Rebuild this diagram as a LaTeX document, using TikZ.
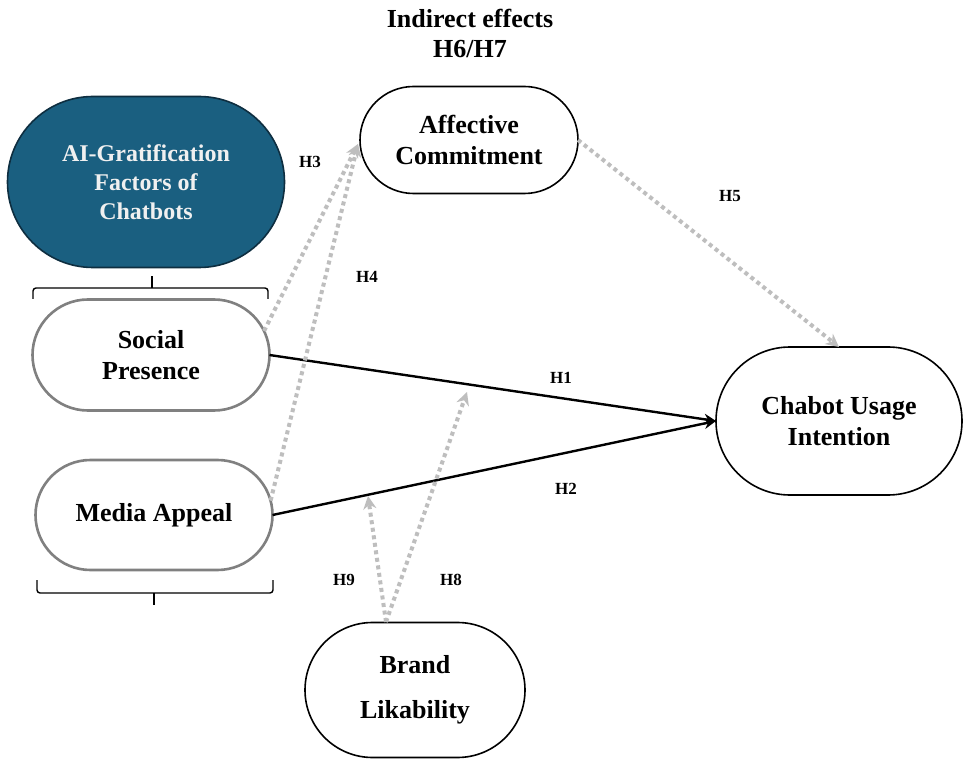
\documentclass[tikz,border=0pt]{standalone}
\usepackage{fontspec}
\setmainfont{Liberation Serif}
\usetikzlibrary{shapes.misc,arrows.meta}
\definecolor{aiblue}{HTML}{1A5F80}
\definecolor{aiedge}{HTML}{0E2E40}
\definecolor{dotgray}{HTML}{BEBEBE}
\definecolor{spgray}{HTML}{808080}
\tikzset{
  stadium/.style={rounded rectangle, draw=black, line width=1.6pt, inner sep=0pt, outer sep=0pt, align=center,
    font=\fontsize{26}{30.5}\selectfont\bfseries},
  grayst/.style={stadium, draw=spgray, line width=2.6pt},
  hlabel/.style={font=\fontsize{17}{20}\selectfont\bfseries, inner sep=0pt},
  solidarrow/.style={line width=2.4pt, -{Stealth[length=12pt,width=11pt]}},
  dotarrow/.style={draw=dotgray, line width=4pt, line cap=butt, dash pattern=on 4pt off 3.6pt,
    -{Stealth[length=13pt,width=13pt,fill=dotgray,color=dotgray]}},
  bracket/.style={line width=1.4pt, rounded corners=3pt}
}
\begin{document}
\begin{tikzpicture}[x=1pt,y=-1pt]
\useasboundingbox (0,0) rectangle (964,759);
\fill[white] (0,0) rectangle (964,759);

% nodes
\node[stadium, fill=aiblue, draw=aiedge, text=white!94!black, minimum width=277pt, minimum height=171pt,
  font=\fontsize{24}{29}\selectfont\bfseries] (ai) at (146,182) {AI-Gratification\\Factors of\\Chatbots};
\node[grayst, minimum width=237pt, minimum height=111pt] (sp) at (151,355) {Social\\Presence};
\node[grayst, minimum width=237pt, minimum height=110pt] (ma) at (154,515) {Media Appeal};
\node[stadium, minimum width=218pt, minimum height=107pt] (ac) at (469,140) {Affective\\Commitment};
\node[stadium, minimum width=246pt, minimum height=148pt] (cu) at (839,421) {Chabot Usage\\Intention};
\node[stadium, minimum width=220pt, minimum height=135pt, font=\fontsize{26}{45}\selectfont\bfseries] (bl) at (415,690) {Brand\\Likability};

\node[align=center, font=\fontsize{26}{30}\selectfont\bfseries, inner sep=0pt] (title) at (470,33) {Indirect effects\\H6/H7};

% brackets
\coordinate (b1l) at (33,299);
\coordinate (b1r) at (268,299);
\coordinate (b1m) at (152,288);
\coordinate (b1t) at (152,276);
\draw[bracket] (b1l) |- (b1m) -| (b1r);
\draw[line width=1.4pt] (b1m) -- (b1t);

\coordinate (b2l) at (37,580);
\coordinate (b2r) at (273,580);
\coordinate (b2m) at (154,593);
\coordinate (b2t) at (154,605);
\draw[bracket] (b2l) |- (b2m) -| (b2r);
\draw[line width=1.4pt] (b2m) -- (b2t);

% solid arrows
\draw[solidarrow] (sp.east) -- (cu.west);
\draw[solidarrow] (ma.east) -- (cu.west);

% dotted arrows
\coordinate (actip) at (358,144);
\coordinate (bltop) at (386,622);
\coordinate (h8tip) at (467,392);
\coordinate (h9tip) at (368,496);
\draw[dotarrow] (sp.12) -- (actip);
\draw[dotarrow] (ma.7) -- (actip);
\draw[dotarrow] (ac.east) -- (cu.north);
\draw[dotarrow] (bltop) -- (h8tip);
\draw[dotarrow] (bltop) -- (h9tip);

% labels
\node[hlabel] (h1) at (561,378) {H1};
\node[hlabel] (h2) at (566,489) {H2};
\node[hlabel] (h3) at (310,162) {H3};
\node[hlabel] (h4) at (367,277) {H4};
\node[hlabel] (h5) at (730,196) {H5};
\node[hlabel] (h8) at (451,580) {H8};
\node[hlabel] (h9) at (344,580) {H9};
\end{tikzpicture}
\end{document}
